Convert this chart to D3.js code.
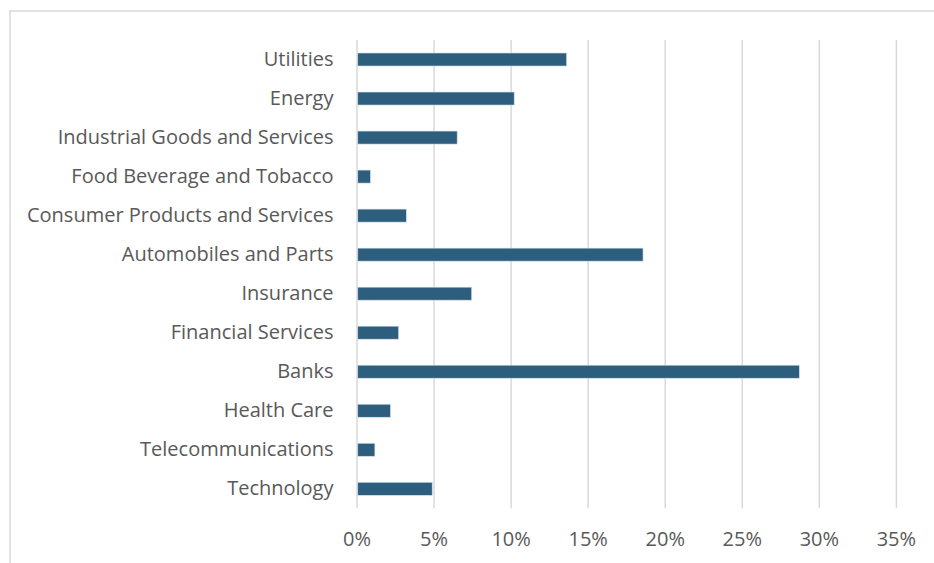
<!DOCTYPE html>
<html>
<head>
<meta charset="utf-8">
<script src="https://cdn.jsdelivr.net/npm/d3@7"></script>
<style>
  html, body { margin: 0; padding: 0; background: #ffffff; }
  svg { display: block; }
  text { font-family: "Open Sans", "Noto Sans", sans-serif; fill: #595959; }
</style>
</head>
<body>
<svg id="chart" width="934" height="563"></svg>
<script>
// Sector shares, listed top to bottom
const sectors = [
  "Utilities",
  "Energy",
  "Industrial Goods and Services",
  "Food Beverage and Tobacco",
  "Consumer Products and Services",
  "Automobiles and Parts",
  "Insurance",
  "Financial Services",
  "Banks",
  "Health Care",
  "Telecommunications",
  "Technology"
];
const shares = [0.136, 0.102, 0.065, 0.0087, 0.032, 0.1856, 0.0744, 0.027, 0.287, 0.0217, 0.0116, 0.0488];
const xTicks = [0, 0.05, 0.10, 0.15, 0.20, 0.25, 0.30, 0.35];

const svg = d3.select("#chart");
const W = 934, H = 563;

// outer chart frame
svg.append("rect")
  .attr("x", 10).attr("y", 11)
  .attr("width", W + 20).attr("height", H + 20)
  .attr("fill", "#ffffff")
  .attr("stroke", "#d9d9d9")
  .attr("stroke-width", 1.5);

const plot = { left: 357, right: 896.4, top: 40, bottom: 508.3 };

const x = d3.scaleLinear().domain([0, 0.35]).range([plot.left, plot.right]);
const y = d3.scaleBand().domain(sectors).range([plot.top, plot.bottom])
  .paddingInner(2 / 3).paddingOuter(1 / 3);

// vertical gridlines
svg.append("g")
  .selectAll("line")
  .data(xTicks)
  .join("line")
  .attr("x1", d => x(d)).attr("x2", d => x(d))
  .attr("y1", plot.top).attr("y2", plot.bottom)
  .attr("stroke", "#d9d9d9")
  .attr("stroke-width", 1.5);

// bars
svg.append("g")
  .selectAll("rect")
  .data(sectors.map((s, i) => ({ s, v: shares[i] })))
  .join("rect")
  .attr("x", x(0) + 0.75)
  .attr("y", d => y(d.s))
  .attr("width", d => x(d.v) - x(0) - 0.75)
  .attr("height", y.bandwidth())
  .attr("fill", "#2e5e7e")
  .attr("stroke", "#d3e0ea")
  .attr("stroke-width", 0.6);

// x-axis tick labels
const fmt = d3.format(".0%");
svg.append("g")
  .selectAll("text")
  .data(xTicks)
  .join("text")
  .attr("x", d => x(d))
  .attr("y", 538.5)
  .attr("text-anchor", "middle")
  .attr("dominant-baseline", "central")
  .style("font-size", "20px")
  .text(d => fmt(d));

// category labels
svg.append("g")
  .selectAll("text")
  .data(sectors)
  .join("text")
  .attr("x", 333.5)
  .attr("y", d => y(d) + y.bandwidth() / 2 - 1.5)
  .attr("text-anchor", "end")
  .attr("dominant-baseline", "central")
  .style("font-size", "20px")
  .text(d => d);
</script>
</body>
</html>
